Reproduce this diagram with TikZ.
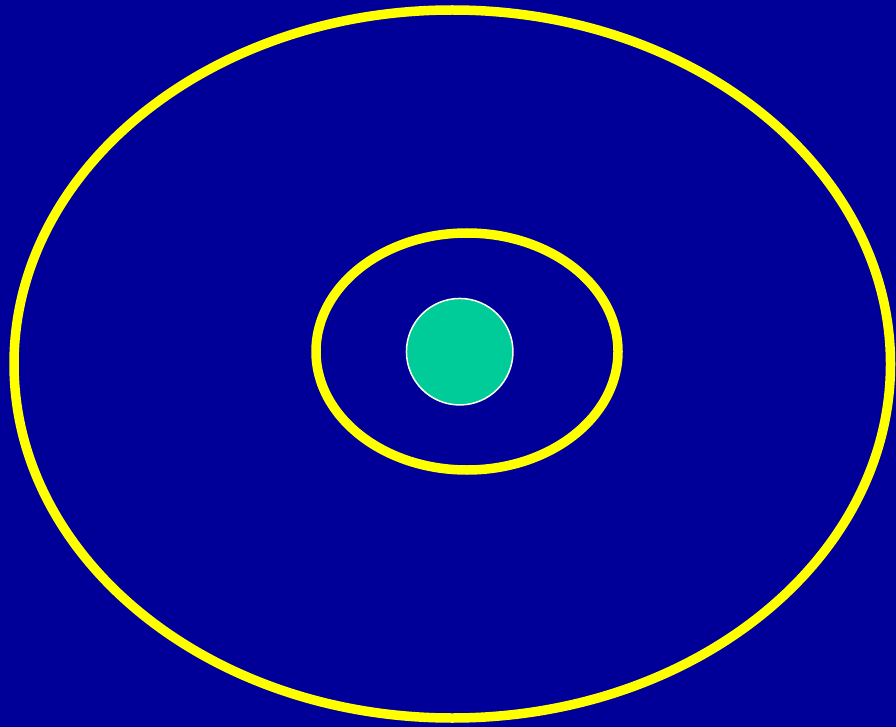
\documentclass[tikz,border=0pt]{standalone}
\definecolor{bg}{HTML}{000099}
\definecolor{ring}{HTML}{FFFF00}
\definecolor{core}{HTML}{00CC99}
\definecolor{rim}{HTML}{FFFFEE}
\begin{document}
\begin{tikzpicture}[x=1pt,y=-1pt,
  orbit/.style={draw=ring,line width=9.5pt},
  nucleus/.style={circle,fill=core,draw=rim,line width=1.5pt,minimum size=106.5pt,inner sep=0pt}]
\fill[bg] (0,0) rectangle (896,727);
\useasboundingbox (0,0) rectangle (896,727);
\begin{scope}
\clip (0,0) rectangle (896,727);
\draw[orbit] (452.25,364) ellipse [x radius=438.25, y radius=354];
\end{scope}
\draw[orbit] (467,351.5) ellipse [x radius=151, y radius=118.5];
\node[nucleus] (n) at (459.7,351.7) {};
\end{tikzpicture}
\end{document}
